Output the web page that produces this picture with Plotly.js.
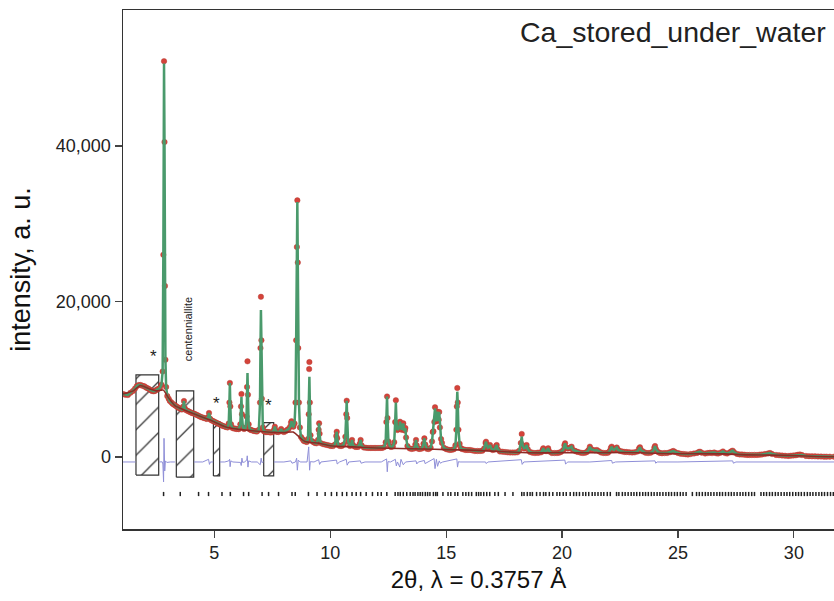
<!DOCTYPE html>
<html>
<head>
<meta charset="utf-8">
<script src="https://cdn.plot.ly/plotly-3.0.1.min.js"></script>
<style>html,body{margin:0;padding:0;background:#fff;}#chart{width:834px;height:601px;}</style>
</head>
<body>
<div id="chart"></div>
<script>
// ---- observed profile (2theta, intensity) ----
const twoTheta = [1.06,1.16,1.27,1.38,1.49,1.58,1.66,1.74,1.82,1.90,1.98,2.05,2.12,2.18,2.25,2.31,2.38,2.44,2.51,2.57,2.65,2.72,2.77,2.80,2.83,2.85,2.87,2.89,2.92,2.97,3.03,3.08,3.15,3.21,3.28,3.34,3.41,3.47,3.54,3.60,3.66,3.69,3.72,3.77,3.84,3.90,3.97,4.03,4.10,4.16,4.23,4.29,4.36,4.42,4.49,4.55,4.62,4.68,4.73,4.77,4.81,4.85,4.92,4.98,5.05,5.11,5.18,5.24,5.31,5.37,5.44,5.50,5.57,5.62,5.65,5.67,5.69,5.72,5.78,5.85,5.91,5.97,6.05,6.12,6.15,6.17,6.19,6.23,6.28,6.34,6.39,6.41,6.43,6.45,6.48,6.53,6.58,6.65,6.71,6.78,6.84,6.92,6.97,6.99,7.01,7.03,7.05,7.09,7.14,7.20,7.26,7.31,7.38,7.44,7.52,7.58,7.61,7.65,7.70,7.76,7.83,7.88,7.93,8.00,8.07,8.13,8.20,8.27,8.31,8.33,8.36,8.41,8.46,8.50,8.53,8.56,8.58,8.60,8.62,8.65,8.69,8.74,8.80,8.86,8.93,8.99,9.04,9.07,9.09,9.10,9.12,9.15,9.21,9.28,9.34,9.41,9.47,9.50,9.52,9.54,9.58,9.68,9.77,9.86,9.95,10.03,10.12,10.20,10.26,10.28,10.30,10.35,10.42,10.50,10.58,10.65,10.69,10.71,10.73,10.77,10.85,10.91,10.94,10.97,11.04,11.11,11.20,11.27,11.31,11.35,11.45,11.54,11.63,11.72,11.80,11.89,11.97,12.06,12.15,12.24,12.32,12.39,12.42,12.45,12.47,12.51,12.57,12.62,12.70,12.76,12.80,12.83,12.86,12.90,12.94,12.99,13.01,13.04,13.08,13.13,13.15,13.18,13.22,13.24,13.27,13.33,13.43,13.52,13.62,13.67,13.70,13.73,13.80,13.87,13.96,14.02,14.06,14.10,14.17,14.25,14.33,14.39,14.42,14.45,14.49,14.52,14.55,14.59,14.62,14.65,14.68,14.70,14.73,14.78,14.82,14.90,14.99,15.07,15.16,15.25,15.33,15.40,15.44,15.46,15.48,15.50,15.53,15.58,15.63,15.68,15.77,15.85,15.94,16.03,16.13,16.24,16.35,16.46,16.56,16.64,16.70,16.72,16.75,16.80,16.86,16.89,16.93,17.00,17.08,17.15,17.18,17.22,17.32,17.43,17.54,17.65,17.76,17.87,17.97,18.07,18.15,18.22,18.26,18.30,18.36,18.43,18.47,18.52,18.62,18.72,18.83,18.93,19.00,19.10,19.16,19.19,19.23,19.31,19.37,19.40,19.45,19.56,19.67,19.78,19.87,19.95,20.05,20.10,20.13,20.17,20.25,20.33,20.38,20.41,20.47,20.55,20.62,20.69,20.80,20.90,21.00,21.07,21.14,21.20,21.25,21.33,21.42,21.50,21.58,21.68,21.78,21.89,21.98,22.06,22.11,22.14,22.18,22.24,22.31,22.36,22.42,22.50,22.60,22.70,22.79,22.90,23.02,23.13,23.25,23.32,23.36,23.40,23.49,23.60,23.71,23.82,23.92,23.98,24.01,24.05,24.14,24.22,24.31,24.42,24.53,24.65,24.75,24.80,24.87,25.00,25.11,25.22,25.33,25.43,25.55,25.69,25.82,25.90,25.95,26.02,26.17,26.28,26.38,26.47,26.56,26.65,26.73,26.84,26.94,27.03,27.12,27.24,27.31,27.36,27.42,27.55,27.66,27.76,27.87,27.98,28.08,28.19,28.30,28.41,28.52,28.62,28.75,28.88,28.97,29.06,29.23,29.36,29.49,29.62,29.75,29.86,29.97,30.08,30.17,30.26,30.35,30.52,30.65,30.78,30.91,31.04,31.17,31.30,31.41,31.55,31.73];
const yObs = [8100,8000,7970,8250,8490,8800,9130,9250,9260,9150,9100,8940,8850,8740,8600,8490,8450,8490,8650,8740,8870,9300,11000,26000,50900,40500,22000,12500,9000,7840,7500,7200,7000,6820,6700,6560,6420,6300,6200,6110,6500,7200,6300,6040,5950,5850,5750,5660,5600,5530,5430,5340,5240,5140,5080,5020,4950,4890,5100,5660,4950,4760,4660,4570,4470,4370,4280,4180,4080,3990,3920,3860,3800,4300,7000,9520,6500,4200,3730,3670,3640,3600,3580,4200,6500,8100,5500,3800,3600,3700,5200,9000,12300,8000,4200,3550,3470,3400,3340,3310,3280,3500,7000,14000,20600,15000,7500,3800,3300,3210,3210,3210,3180,3150,3200,3550,3900,3400,3220,3210,3300,3600,3300,3210,3300,3470,3600,3900,4400,4600,4000,3900,4300,7000,15000,27000,33000,25000,14000,7000,3800,2570,2300,2060,1980,1930,2300,5500,11300,12200,7000,2800,2060,1900,1800,1760,2200,3500,4330,3000,1800,1670,1600,1540,1480,1410,1400,1600,2700,3250,2400,1500,1410,1420,1600,2600,5500,7240,5000,2000,1410,1700,2190,1600,1350,1290,1300,1700,2190,1500,1220,1190,1160,1160,1160,1160,1160,1160,1160,1170,1250,1900,4500,7780,5000,2000,1400,1290,1350,1900,4500,7300,4300,3470,3600,4000,4540,3800,3500,3900,4330,3500,3400,3730,2500,1400,1100,1030,1100,1600,2190,1500,1050,1030,1100,1700,2400,1600,1050,1030,1200,2000,3200,3300,4500,6400,4800,4600,5830,4700,4800,5790,3800,2300,1800,1200,1030,950,900,920,1000,1500,3500,6500,8870,7000,3500,1700,1150,1030,950,900,900,900,850,770,770,770,800,1100,1800,1970,1500,1200,1300,1540,1200,900,950,1400,1540,1000,710,680,640,600,580,580,580,600,800,1800,2960,1500,1100,1200,1540,1000,640,560,510,540,560,600,900,1120,800,750,950,1120,700,510,510,510,560,640,900,1500,1760,1200,1100,1150,1250,1330,900,800,700,640,560,510,560,640,900,1330,1000,900,850,900,750,580,520,510,560,800,1200,1330,1000,900,1100,1220,900,770,700,650,640,600,580,600,700,1100,1250,900,710,550,510,550,700,1200,1410,1000,640,520,480,500,510,600,720,770,650,510,420,390,360,320,380,450,520,640,680,560,450,500,550,500,580,480,450,560,710,500,450,600,750,810,600,390,330,320,290,260,260,260,270,260,300,320,380,450,510,380,260,230,190,160,130,160,190,220,280,320,250,130,110,90,80,65,55,45,40,40,40];

// ---- calculated profile: differs from observed only at these peak tops ----
const calcTopX = [2.83, 6.17, 6.43, 7.01, 8.58, 9.09, 9.10, 12.83, 14.42, 14.52, 15.48, 18.26];
const calcTopY = [50600, 7700, 10800, 18900, 32800, 9500, 10330, 7000, 3050, 6260, 8400, 2610];

// ---- background curve ----
const bkgX = [1.06,1.5,1.8,2.2,2.5,2.8,3.0,3.3,3.7,4.2,4.8,5.5,6.0,6.5,7.0,7.5,8.0,8.4,8.9,9.5,10.0,11.0,12.0,13.0,14.0,15.0,16.0,17.0,18.0,19.0,20.0,21.0,22.0,23.0,24.0,25.0,26.0,27.0,28.0,29.0,30.0,31.0,31.73];
const bkgY = [8100,8500,9200,8750,8500,8600,7700,6620,6040,5450,4780,3860,3580,3420,3270,3160,3150,3200,2000,1780,1440,1300,1160,1090,1030,950,880,760,600,530,560,540,560,570,490,420,430,400,270,240,180,70,40];

// ---- difference curve (null = excluded region) ----
const diffX = [1.06,1.3,1.6,1.62,2.62,2.75,2.78,2.81,2.83,2.86,2.89,2.95,3.1,3.3,3.36,4.12,4.3,4.5,4.75,4.79,4.83,4.95,4.96,5.24,5.45,5.62,5.66,5.68,5.71,5.8,6.0,6.13,6.16,6.19,6.22,6.3,6.40,6.42,6.45,6.48,6.6,6.85,6.98,7.02,7.05,7.12,7.13,7.57,7.8,8.0,8.3,8.35,8.5,8.55,8.58,8.62,8.7,9.0,9.07,9.11,9.14,9.3,9.5,9.54,9.6,10.27,10.3,10.4,10.69,10.73,10.8,11.3,11.33,11.5,12.2,12.43,12.46,12.49,12.6,12.81,12.85,12.9,13.0,13.05,13.15,13.25,13.7,13.73,13.8,14.06,14.09,14.2,14.48,14.52,14.58,14.63,14.7,14.75,14.85,15.46,15.49,15.53,15.6,16.7,16.73,16.8,18.24,18.28,18.35,20.12,20.15,20.25,21.2,22.14,22.17,22.3,24.01,24.04,24.1,25.0,27.36,27.39,27.5,31.73];
const diffY = [-640,-600,-640,null,-640,-620,-900,-3200,2400,-1800,-500,-700,-640,-640,null,-640,-620,-640,-300,-950,-640,-640,null,-640,-640,-500,-300,-1250,-500,-640,-640,-700,-1100,-150,-700,-640,-400,150,-1300,-500,-640,-640,-1000,-150,-700,-640,null,-640,-620,-640,-500,-800,-640,-150,-1700,-400,-640,-640,1300,-1700,-600,-640,-350,-950,-640,-400,-900,-640,-300,-1050,-640,-500,-800,-640,-640,-250,-1900,-600,-640,-300,-1150,-640,-1300,-300,-1000,-640,-500,-900,-640,-450,-850,-640,-200,-1500,-300,-1200,-500,-800,-640,-250,-1300,-600,-640,-640,-850,-640,-350,-950,-640,-400,-900,-640,-640,-450,-800,-640,-500,-800,-640,-640,-500,-800,-640,-640];

// ---- reflection positions ----
const reflX = [2.81,3.53,4.32,4.75,5.33,5.69,6.26,6.48,7.06,7.34,7.77,8.35,8.49,9.06,9.43,9.78,10.05,10.28,10.52,10.71,10.94,11.12,11.31,11.55,11.82,12.05,12.2,12.44,12.8,12.92,13.02,13.15,13.3,13.45,13.57,13.66,13.78,13.88,13.98,14.1,14.2,14.3,14.45,14.55,14.62,14.86,15.08,15.2,15.38,15.5,15.72,15.85,15.97,16.1,16.3,16.4,16.5,16.62,16.75,16.88,17.1,17.25,17.54,17.88,18.26,18.36,18.5,18.62,18.72,18.9,19.05,19.2,19.3,19.45,19.6,19.78,19.9,20.05,20.18,20.35,20.5,20.62,20.75,20.9,21.02,21.15,21.3,21.42,21.55,21.68,21.8,21.95,22.08,22.35,22.45,22.6,22.72,22.85,22.98,23.1,23.22,23.35,23.48,23.6,23.72,23.85,23.97,24.1,24.22,24.35,24.48,24.6,24.72,24.85,24.97,25.1,25.22,25.35,25.62,25.8,25.92,26.05,26.18,26.3,26.42,26.55,26.68,26.8,26.92,27.05,27.18,27.3,27.42,27.55,27.68,27.8,27.92,28.05,28.18,28.3,28.58,28.7,28.82,28.95,29.07,29.2,29.32,29.45,29.58,29.7,29.82,29.95,30.08,30.2,30.32,30.45,30.58,30.7,30.82,30.95,31.08,31.2,31.32,31.45,31.58,31.7];
const reflLevel = -4760;

// ---- excluded regions ----
const exclX0 = [1.62, 3.36, 4.96, 7.13];
const exclX1 = [2.60, 4.11, 5.23, 7.56];
const exclYtop = [10550, 8490, 4540, 4410];
const exclYbot = [-2320, -2600, -2440, -2440];

// ---- labels ----
const starX = [2.37, 5.09, 7.33];
const starY = [12860, 6820, 6560];
const phaseLabel = "centenniallite";
const sampleName = "Ca_stored_under_water";
const xTicks = [5, 10, 15, 20, 25, 30];
const yTicks = [0, 20000, 40000];

const yCalc = twoTheta.map((x, i) => {
  const k = calcTopX.indexOf(x);
  return k >= 0 ? calcTopY[k] : yObs[i];
});

const FONT = "Liberation Sans, Arial, Helvetica, sans-serif";
const traces = [];

exclX0.forEach((x0, i) => {
  const x1 = exclX1[i];
  traces.push({
    type: "scatter", mode: "lines",
    x: [x0, x1, x1, x0, x0],
    y: [exclYbot[i], exclYbot[i], exclYtop[i], exclYtop[i], exclYbot[i]],
    fill: "toself",
    fillcolor: "rgba(0,0,0,0)",
    fillpattern: {shape: "/", size: 18, solidity: 0.07, fgcolor: "#333", bgcolor: "rgba(255,255,255,0)"},
    line: {color: "#333", width: 1.2},
    hoverinfo: "skip", showlegend: false
  });
});

traces.push({
  type: "scatter", mode: "lines", x: diffX, y: diffY,
  line: {color: "#8f8fd8", width: 1}, connectgaps: false,
  hoverinfo: "skip", showlegend: false
});

traces.push({
  type: "scatter", mode: "markers", x: reflX, y: reflX.map(() => reflLevel),
  marker: {symbol: "line-ns", size: 3, line: {color: "#222", width: 1.5}},
  hoverinfo: "skip", showlegend: false
});

traces.push({
  type: "scatter", mode: "markers", x: twoTheta, y: yObs,
  marker: {color: "#d4433a", size: 5.5, line: {color: "#b03a33", width: 0.4}},
  hoverinfo: "skip", showlegend: false
});

traces.push({
  type: "scatter", mode: "lines", x: twoTheta, y: yCalc,
  line: {color: "#4a9a6c", width: 2.5},
  hoverinfo: "skip", showlegend: false
});

traces.push({
  type: "scatter", mode: "lines", x: bkgX, y: bkgY,
  line: {color: "#8e2a25", width: 1.6, shape: "spline", smoothing: 0.6},
  hoverinfo: "skip", showlegend: false
});

const annotations = [];
starX.forEach((x, i) => annotations.push({
  x: x, y: starY[i], xref: "x", yref: "y", text: "*", showarrow: false,
  font: {family: FONT, size: 17, color: "#222"}
}));
annotations.push({
  x: 3.84, y: 16500, xref: "x", yref: "y", text: phaseLabel, showarrow: false,
  textangle: -90, font: {family: FONT, size: 11, color: "#222"}
});
annotations.push({
  x: 31.47, y: 54650, xref: "x", yref: "y", text: sampleName, showarrow: false,
  xanchor: "right", yanchor: "middle", font: {family: FONT, size: 28.5, color: "#222"}
});

const layout = {
  width: 834, height: 601,
  margin: {l: 123, r: 0, t: 10, b: 72},
  paper_bgcolor: "#fff", plot_bgcolor: "#fff",
  showlegend: false,
  font: {family: FONT, color: "#222"},
  xaxis: {
    range: [1.06, 31.73], tickvals: xTicks, ticks: "outside", ticklen: 7, tickwidth: 1.2, tickcolor: "#444",
    showline: true, linecolor: "#333", linewidth: 1.5, mirror: true,
    showgrid: false, zeroline: false,
    tickfont: {family: FONT, size: 18, color: "#222"},
    title: {text: "2θ, λ = 0.3757 Å", font: {family: FONT, size: 24, color: "#111"}, standoff: 9}
  },
  yaxis: {
    range: [-9260, 57480], tickvals: yTicks, tickformat: ",d", ticks: "outside", ticklen: 7, tickwidth: 1.2, tickcolor: "#444",
    showline: true, linecolor: "#333", linewidth: 1.5, mirror: false,
    showgrid: false, zeroline: false,
    tickfont: {family: FONT, size: 18, color: "#222"},
    title: {text: "intensity, a. u.", font: {family: FONT, size: 27, color: "#111"}, standoff: 17}
  },
  annotations: annotations
};

Plotly.newPlot("chart", traces, layout, {displayModeBar: false, staticPlot: true});
</script>
</body>
</html>
